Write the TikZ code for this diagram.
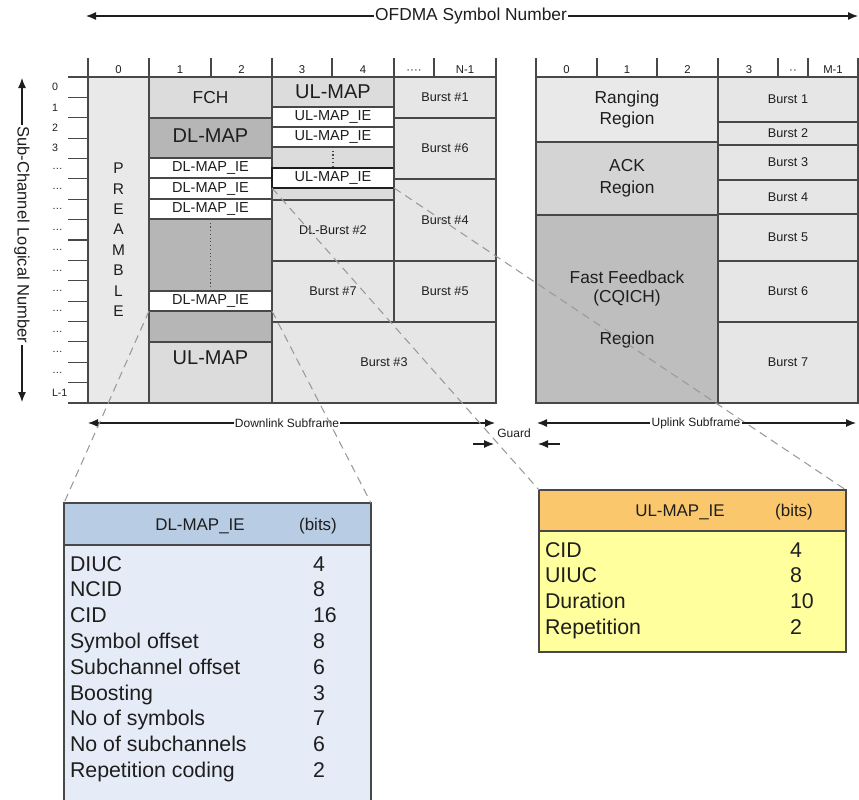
\documentclass[tikz,border=0pt]{standalone}
\usepackage{fontspec}
\setmainfont{Liberation Sans}
\usetikzlibrary{fit,arrows.meta}
\definecolor{lc}{HTML}{484848}
\definecolor{tc}{HTML}{1E1E1E}
\definecolor{cPre}{HTML}{E9E9E9}
\definecolor{cMid}{HTML}{DCDCDC}
\definecolor{cDark}{HTML}{B6B6B6}
\definecolor{cBurst}{HTML}{E6E6E6}
\definecolor{cAck}{HTML}{D4D4D4}
\definecolor{cFF}{HTML}{BEBEBE}
\definecolor{cDLh}{HTML}{B8CCE4}
\definecolor{cDLb}{HTML}{E6ECF7}
\definecolor{cULh}{HTML}{FAC76C}
\definecolor{cULb}{HTML}{FFFF9E}
\definecolor{cDash}{HTML}{9A9A9A}
\newcommand{\szBig}{\fontsize{15pt}{18pt}\selectfont}
\newcommand{\szFch}{\fontsize{13pt}{16pt}\selectfont}
\newcommand{\szIE}{\fontsize{10.9pt}{12pt}\selectfont}
\newcommand{\szBurst}{\fontsize{9.5pt}{11pt}\selectfont}
\newcommand{\szReg}{\fontsize{13pt}{16.3pt}\selectfont}
\newcommand{\szCol}{\fontsize{8.5pt}{10pt}\selectfont}
\newcommand{\szRowL}{\fontsize{8pt}{10pt}\selectfont}
\newcommand{\szAxis}{\fontsize{12.4pt}{15pt}\selectfont}
\newcommand{\szTop}{\fontsize{13pt}{15pt}\selectfont}
\newcommand{\szSub}{\fontsize{9pt}{11pt}\selectfont}
\newcommand{\szPre}{\fontsize{11.6pt}{14pt}\selectfont}
\newcommand{\szTabH}{\fontsize{12.7pt}{15pt}\selectfont}
\newcommand{\szTab}{\fontsize{16pt}{19pt}\selectfont}
% #1 style, #2 name, #3 corner, #4 corner, #5 font, #6 text
\newcommand{\cbox}[6]{%
  \node[#1, fit={#3#4}] (#2) {};
  \node[font=#5, align=center] (#2t) at (#2.center) {#6};}
\begin{document}
\begin{tikzpicture}[x=0.75pt,y=-0.75pt,
  every node/.style={inner sep=0pt, outer sep=0pt, text=tc},
  cell/.style={draw=lc, line width=1.1pt, inner sep=0pt},
  iebox/.style={cell, fill=white},
  burst/.style={cell, fill=cBurst},
  tick/.style={draw=lc, line width=0.9pt},
  dblarr/.style={{Latex[length=7.5pt,width=6pt]}-{Latex[length=7.5pt,width=6pt]}, line width=0.9pt, draw=tc},
  onearr/.style={-{Latex[length=7.5pt,width=6pt]}, line width=0.9pt, draw=tc},
  zoomline/.style={draw=cDash, line width=0.8pt, dash pattern=on 6pt off 4pt},
  dotline/.style={draw=lc, line width=0.8pt, dotted},
  tabbox/.style={draw=lc, line width=1.1pt, inner sep=0pt},
]
\useasboundingbox (0,0) rectangle (859,799);
\clip (0,0) rectangle (859,799);

% ---------- top axis ----------
\coordinate (ofl) at (86,16);
\coordinate (ofr) at (858,16);
\draw[dblarr] (ofl) -- (ofr);
\node[fill=white, inner xsep=1pt, font=\szTop] (oft) at (471,16) {OFDMA Symbol Number};

% ---------- vertical axis ----------
\coordinate (vat) at (22,78);
\coordinate (vab) at (22,402);
\draw[dblarr] (vat) -- (vab);
\node[fill=white, inner ysep=1pt, inner xsep=1pt, rotate=-90, font=\szAxis] (vax) at (22,235) {Sub-Channel Logical Number};

% ---------- DL grid ----------
\node[cell, fill=cPre, fit={(88,77)(149,403)}] (pre) {};
\foreach \t [count=\i] in {P,R,E,A,M,B,L,E}
  \node[font=\szPre] (pre\i) at (118.5,{168.5+20.375*(\i-1)}) {\t};

\cbox{cell, fill=cMid}{fch}{(149,77)}{(272,118)}{\szFch}{FCH}
\node[cell, fill=cDark, fit={(149,118)(272,342)}] (dlmap) {};
\node[font=\szBig] (dlmapt) at (210.5,136) {DL-MAP};
\node[cell, fill=cMid, fit={(149,342)(272,403)}] (ulmapdl) {};
\node[font=\szBig] (ulmapdlt) at (210.5,358) {UL-MAP};
\cbox{iebox}{dlie1}{(149,158)}{(272,178)}{\szIE}{DL-MAP\_IE}
\cbox{iebox}{dlie2}{(149,178)}{(272,199)}{\szIE}{DL-MAP\_IE}
\cbox{iebox}{dlie3}{(149,199)}{(272,219)}{\szIE}{DL-MAP\_IE}
\cbox{iebox}{dlie4}{(149,291)}{(272,311)}{\szIE}{DL-MAP\_IE}
\draw[dotline] (dlie3.south) -- (dlie4.north);

\node[cell, fill=cMid, fit={(272,107)(394,200)}] (ularea) {};
\cbox{cell, fill=cMid}{ulmap}{(272,77)}{(394,107)}{\szBig}{UL-MAP}
\cbox{iebox}{ulie1}{(272,107)}{(394,127)}{\szIE}{UL-MAP\_IE}
\cbox{iebox}{ulie2}{(272,127)}{(394,147)}{\szIE}{UL-MAP\_IE}
\cbox{iebox, draw=tc, line width=1.4pt}{ulie3}{(272,168)}{(394,188)}{\szIE}{UL-MAP\_IE}
\draw[dotline] (ulie2.south) -- (ulie3.north);

\cbox{burst}{dlb2}{(272,200)}{(394,261)}{\szBurst}{DL-Burst \#2}
\cbox{burst}{b7}{(272,261)}{(394,322)}{\szBurst}{Burst \#7}
\cbox{burst}{b3}{(272,322)}{(496,403)}{\szBurst}{Burst \#3}
\cbox{burst}{b1}{(394,77)}{(496,118)}{\szBurst}{Burst \#1}
\cbox{burst}{b6}{(394,118)}{(496,179)}{\szBurst}{Burst \#6}
\cbox{burst}{b4}{(394,179)}{(496,261)}{\szBurst}{Burst \#4}
\cbox{burst}{b5}{(394,261)}{(496,322)}{\szBurst}{Burst \#5}

% header ticks and labels (DL)
\foreach \x in {88,149,211,272,332,394,434,496}
  \draw[tick] (\x,58) -- (\x,77);
\draw[tick] (68,77) -- (496,77);
\draw[tick] (68,403) -- (496,403);
\foreach \x/\t/\n in {118.5/0/dh0,180/1/dh1,241.5/2/dh2,302/3/dh3,363/4/dh4,414/····/dh5,465/N-1/dh6}
  \node[font=\szCol, anchor=base] (\n) at (\x,73.5) {\t};
\foreach \i in {1,...,15}
  \draw[tick] (68,{77+20.375*\i}) -- (88,{77+20.375*\i});
\foreach \t [count=\i] in {0,1,2,3,…,…,…,…,…,…,…,…,…,…,…,L-1}
  \node[anchor=west, font=\szRowL] (rl\i) at (52,{77+20.375*\i-10.2}) {\t};

% ---------- UL grid ----------
\cbox{cell, fill=cPre}{rng}{(536,77)}{(718,142)}{\szReg}{Ranging\\Region}
\cbox{cell, fill=cAck}{ack}{(536,142)}{(718,215)}{\szReg}{ACK\\Region}
\node[cell, fill=cFF, fit={(536,215)(718,403)}] (ff) {};
\node[font=\szReg] (ff1) at (627,277) {Fast Feedback};
\node[font=\szReg] (ff2) at (627,298) {(CQICH)};
\node[font=\szReg] (ff3) at (627,340) {Region};
\cbox{burst}{ub1}{(718,77)}{(858,122)}{\szBurst}{Burst 1}
\cbox{burst}{ub2}{(718,122)}{(858,145)}{\szBurst}{Burst 2}
\cbox{burst}{ub3}{(718,145)}{(858,180)}{\szBurst}{Burst 3}
\cbox{burst}{ub4}{(718,180)}{(858,214)}{\szBurst}{Burst 4}
\cbox{burst}{ub5}{(718,214)}{(858,261)}{\szBurst}{Burst 5}
\cbox{burst}{ub6}{(718,261)}{(858,322)}{\szBurst}{Burst 6}
\cbox{burst}{ub7}{(718,322)}{(858,403)}{\szBurst}{Burst 7}
\foreach \x in {536,597,657,718,778,808,858}
  \draw[tick] (\x,58) -- (\x,77);
\draw[tick] (536,77) -- (858,77);
\foreach \x/\t/\n in {566.5/0/uh0,627/1/uh1,687.5/2/uh2,749/3/uh3,793/··/uh4,833/M-1/uh5}
  \node[font=\szCol, anchor=base] (\n) at (\x,73.5) {\t};

% ---------- subframe arrows ----------
\coordinate (dsl) at (88,423);
\coordinate (dsr) at (495,423);
\draw[dblarr] (dsl) -- (dsr);
\node[fill=white, inner xsep=1pt, font=\szSub] (dst) at (287,423) {Downlink Subframe};
\coordinate (usl) at (537,423);
\coordinate (usr) at (856,423);
\draw[dblarr] (usl) -- (usr);
\node[fill=white, inner xsep=1pt, font=\szSub] (ust) at (696,423) {Uplink Subframe};
\node[font=\szSub] (guard) at (514,433) {Guard};
\coordinate (g1a) at (473,444);
\coordinate (g1b) at (494,444);
\draw[onearr] (g1a) -- (g1b);
\coordinate (g2a) at (560,444);
\coordinate (g2b) at (538,444);
\draw[onearr] (g2a) -- (g2b);

% ---------- tables ----------
\node[tabbox, fill=cDLb, fit={(64,545)(371,830)}] (dlbody) {};
\node[tabbox, fill=cDLh, fit={(64,503)(371,545)}] (dlhead) {};
\node[anchor=base, font=\szTabH] (dlh1) at (200,530) {DL-MAP\_IE};
\node[anchor=base, font=\szTabH] (dlh2) at (318,530) {(bits)};
\foreach \t/\v [count=\i] in {DIUC/4,NCID/8,CID/16,Symbol offset/8,Subchannel offset/6,Boosting/3,No of symbols/7,No of subchannels/6,Repetition coding/2}{
  \node[anchor=base west, font=\szTab] (dlr\i) at (70,{571+25.8*(\i-1)}) {\t};
  \node[anchor=base west, font=\szTab] (dlv\i) at (313,{571+25.8*(\i-1)}) {\v};
}
\node[tabbox, fill=cULb, fit={(539,531)(846,652)}] (ulbody) {};
\node[tabbox, fill=cULh, fit={(539,490)(846,531)}] (ulhead) {};
\node[anchor=base, font=\szTabH] (ulh1) at (680,516) {UL-MAP\_IE};
\node[anchor=base, font=\szTabH] (ulh2) at (794,516) {(bits)};
\foreach \t/\v [count=\i] in {CID/4,UIUC/8,Duration/10,Repetition/2}{
  \node[anchor=base west, font=\szTab] (ulr\i) at (545,{557+25.7*(\i-1)}) {\t};
  \node[anchor=base west, font=\szTab] (ulv\i) at (790,{557+25.7*(\i-1)}) {\v};
}

% ---------- zoom lines ----------
\draw[zoomline] (dlie4.south west) -- (dlhead.north west);
\draw[zoomline] (dlie4.south east) -- (dlhead.north east);
\draw[zoomline] (ulie3.south west) -- (ulhead.north west);
\draw[zoomline] (ulie3.south east) -- (ulhead.north east);
\end{tikzpicture}
\end{document}
